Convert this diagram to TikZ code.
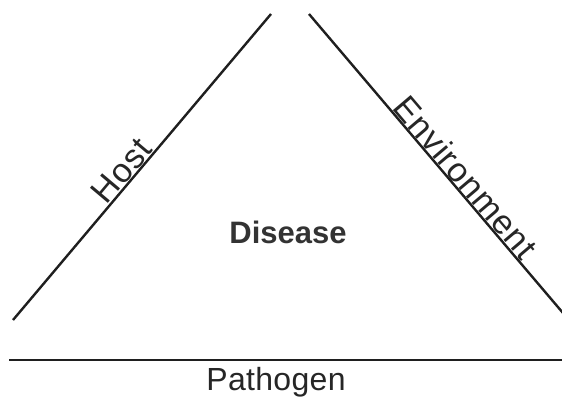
\documentclass[tikz,border=0pt]{standalone}
\usepackage{fontspec}
\setmainfont{Liberation Sans}
\begin{document}
\begin{tikzpicture}[x=1pt,y=-1pt,
  side/.style={draw=black!88,line width=2.4pt},
  lbl/.style={font=\fontsize{34}{34}\selectfont\addfontfeatures{LetterSpace=3},text=black!85,inner sep=1.5pt,outer sep=0pt},
  center/.style={font=\fontsize{31}{31}\selectfont\bfseries,text=black!80,inner sep=0pt}]
  \useasboundingbox (0,0) rectangle (562,402);
  \coordinate (hostA) at (13,320);
  \coordinate (hostB) at (271,14);
  \coordinate (envA) at (309,14);
  \coordinate (envB) at (563,313);
  \coordinate (pathA) at (9,360);
  \coordinate (pathB) at (563,360);
  \draw[side] (hostA) -- node[lbl,sloped,above,pos=0.46] (host) {Host} (hostB);
  \draw[side] (envA) -- node[lbl,sloped,above,pos=0.575] (env) {Environment} (envB);
  \draw[side] (pathA) -- (pathB);
  \node[center] (disease) at (288,232) {Disease};
  \node[lbl,font=\fontsize{32}{32}\selectfont\addfontfeatures{LetterSpace=1},inner sep=0pt] (path) at (276,382) {Pathogen};
\end{tikzpicture}
\end{document}
